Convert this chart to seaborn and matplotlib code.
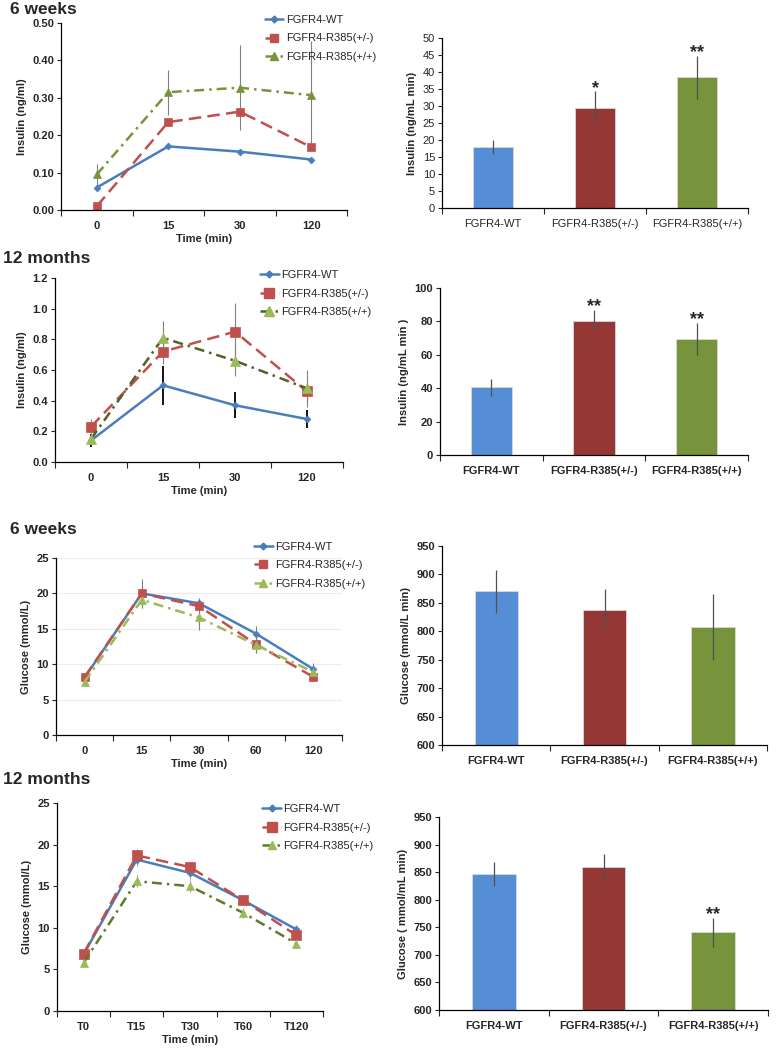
import seaborn as sns
import matplotlib.pyplot as plt
import numpy as np
from matplotlib.lines import Line2D
from matplotlib.ticker import FormatStrFormatter

groups = ['FGFR4-WT', 'FGFR4-R385(+/-)', 'FGFR4-R385(+/+)']

# insulin, 6 weeks
ins6w_times = ['0', '15', '30', '120']
ins6w_wt = [0.06, 0.17, 0.156, 0.135]
ins6w_het = [0.01, 0.235, 0.263, 0.168]
ins6w_hom = [0.095, 0.315, 0.327, 0.307]
ins6w_hom_err = [0.027, 0.06, 0.113, 0.145]
ins6w_auc = [18.0, 29.5, 38.5]
ins6w_auc_err = [2.0, 4.8, 6.3]

# insulin, 12 months
ins12m_times = ['0', '15', '30', '120']
ins12m_wt = [0.14, 0.50, 0.37, 0.28]
ins12m_wt_err = [0.04, 0.125, 0.085, 0.06]
ins12m_het = [0.23, 0.72, 0.85, 0.46]
ins12m_het_err = [0.05, 0.08, 0.185, 0.06]
ins12m_hom = [0.15, 0.81, 0.66, 0.48]
ins12m_hom_err = [0.03, 0.11, 0.10, 0.12]
ins12m_auc = [40.5, 80.5, 69.5]
ins12m_auc_err = [5.0, 6.5, 9.8]

# glucose, 6 weeks
glu6w_times = ['0', '15', '30', '60', '120']
glu6w_wt = [8.1, 20.0, 18.6, 14.3, 9.3]
glu6w_wt_err = [0.4, 1.0, 0.8, 1.1, 0.8]
glu6w_het = [8.2, 20.0, 18.2, 12.8, 8.2]
glu6w_het_err = [0.4, 2.0, 0.6, 1.2, 0.4]
glu6w_hom = [7.5, 19.1, 16.6, 12.7, 8.9]
glu6w_hom_err = [0.5, 1.1, 1.8, 1.1, 0.6]
glu6w_auc = [870, 837, 808]
glu6w_auc_err = [37, 38, 58]

# glucose, 12 months
glu12m_times = ['T0', 'T15', 'T30', 'T60', 'T120']
glu12m_wt = [6.8, 18.2, 16.6, 13.3, 9.8]
glu12m_wt_err = [0.4, 0.8, 0.7, 0.6, 0.5]
glu12m_het = [6.9, 18.7, 17.3, 13.3, 9.1]
glu12m_het_err = [0.4, 0.8, 0.6, 0.6, 0.5]
glu12m_hom = [5.8, 15.6, 15.0, 11.8, 8.1]
glu12m_hom_err = [0.4, 0.7, 0.7, 0.6, 0.4]
glu12m_auc = [846, 859, 741]
glu12m_auc_err = [22, 24, 26]

sns.set_style('ticks')
plt.rcParams['font.family'] = ['Liberation Sans', 'DejaVu Sans']

BLUE = '#4A7EBB'
RED = '#C0504D'
bar_colors = ['#558ED5', '#953735', '#77933C']

fig = plt.figure(figsize=(7.76, 10.5), dpi=100)


def px_axes(x0, y0, x1, y1):
    return fig.add_axes([x0 / 776, 1 - y1 / 1050, (x1 - x0) / 776, (y1 - y0) / 1050])


def style_axis(ax, n, ylim, step, fmt, ylabel, bold=True):
    ax.set_xlim(-0.5, n - 0.5)
    ax.set_ylim(*ylim)
    ax.set_yticks(np.arange(ylim[0], ylim[1] + step / 2, step))
    ax.yaxis.set_major_formatter(FormatStrFormatter(fmt))
    ax.set_xticks(np.arange(n + 1) - 0.5, minor=True)
    ax.tick_params(axis='x', which='major', length=0, labelsize=8, pad=8)
    ax.tick_params(axis='x', which='minor', length=4, width=0.8, direction='out')
    ax.tick_params(axis='y', length=3, width=0.8, labelsize=8, pad=2)
    ax.set_ylabel(ylabel, fontsize=8, fontweight='bold', labelpad=4)
    w = 'bold' if bold else 'normal'
    plt.setp(ax.get_yticklabels(), fontweight=w)
    plt.setp(ax.get_xticklabels(), fontweight=w)
    for sp in ['left', 'bottom']:
        ax.spines[sp].set_linewidth(0.9)
        ax.spines[sp].set_color('black')
    sns.despine(ax=ax)


def draw_lines(ax, times, rows, ylim, step, fmt, ylabel, anchor, grid=False):
    n = len(times)
    handles = []
    for label, vals, errs, st in rows:
        if errs is not None:
            ax.errorbar(np.arange(n), vals, yerr=errs, fmt='none', ecolor=st['ec'],
                        elinewidth=st.get('ew', 0.8), capsize=0, zorder=1)
        sns.pointplot(x=times, y=vals, color=st['c'], markers=st['m'], linestyles=st['ls'],
                      errorbar=None, ax=ax, linewidth=1.8, markersize=st['ms'],
                      markerfacecolor=st['mc'], markeredgecolor=st['mc'], markeredgewidth=0.5)
        handles.append(Line2D([], [], color=st['c'], ls=st['ls'], lw=1.8, marker=st['m'],
                              ms=st['ms'], mfc=st['mc'], mec=st['mc'], label=label))
    style_axis(ax, n, ylim, step, fmt, ylabel)
    if grid:
        ax.yaxis.grid(True, color='#ececec', lw=0.8)
        ax.set_axisbelow(True)
    ax.set_xlabel('Time (min)', fontsize=8, fontweight='bold', labelpad=2)
    ax.legend(handles=handles, loc='upper left', bbox_to_anchor=anchor, frameon=False,
              fontsize=8, handlelength=1.7, handletextpad=0.2, labelspacing=0.75,
              borderaxespad=0, borderpad=0.3)


def draw_bars(ax, vals, errs, ylim, step, ylabel, bold, stars):
    sns.barplot(x=groups, y=vals, hue=groups, palette=bar_colors, legend=False, width=0.4,
                saturation=1, errorbar=None, ax=ax, edgecolor='#d8d8d8', linewidth=0.6)
    ax.errorbar(np.arange(3), vals, yerr=errs, fmt='none', ecolor='#505050',
                elinewidth=0.9, capsize=0)
    style_axis(ax, 3, ylim, step, '%d', ylabel, bold=bold)
    ax.set_xlabel('')
    for i, s in stars:
        ax.annotate(s, (i, vals[i] + errs[i]), xytext=(0, -4), textcoords='offset points',
                    ha='center', va='bottom', fontsize=13, fontweight='bold')


wt_st = dict(c=BLUE, mc=BLUE, m='D', ls='-', ms=3.5, ec='#808080')
het_st = dict(c=RED, mc=RED, m='s', ls=(0, (5, 2.5)), ms=6, ec='#808080')

# row 1
ax1 = px_axes(61, 23, 347, 210)
draw_lines(ax1, ins6w_times, [
    (groups[0], ins6w_wt, None, wt_st),
    (groups[1], ins6w_het, None, het_st),
    (groups[2], ins6w_hom, ins6w_hom_err,
     dict(c='#77933C', mc='#77933C', m='^', ls=(0, (4, 2, 1, 2)), ms=5.5, ec='#808080')),
], (0, 0.5), 0.1, '%.2f', 'Insulin (ng/ml)', (0.70, 1.06))

ax2 = px_axes(442, 38, 748, 208)
draw_bars(ax2, ins6w_auc, ins6w_auc_err, (0, 50), 5, 'Insulin (ng/mL min)', False,
          [(1, '*'), (2, '**')])

# row 2
ax3 = px_axes(55, 278, 343, 462)
draw_lines(ax3, ins12m_times, [
    (groups[0], ins12m_wt, ins12m_wt_err, dict(wt_st, ec='black', ew=1.3)),
    (groups[1], ins12m_het, ins12m_het_err, dict(het_st, ms=7)),
    (groups[2], ins12m_hom, ins12m_hom_err,
     dict(c='#4F6228', mc='#9BBB59', m='^', ls=(0, (4, 2, 1, 2)), ms=7, ec='#808080')),
], (0, 1.2), 0.2, '%.1f', 'Insulin (ng/ml)', (0.70, 1.06))

ax4 = px_axes(440, 288, 748, 455)
draw_bars(ax4, ins12m_auc, ins12m_auc_err, (0, 100), 20, 'Insulin (ng/mL min )', True,
          [(1, '**'), (2, '**')])

# row 3
ax5 = px_axes(56, 558, 342, 735)
draw_lines(ax5, glu6w_times, [
    (groups[0], glu6w_wt, glu6w_wt_err, wt_st),
    (groups[1], glu6w_het, glu6w_het_err, het_st),
    (groups[2], glu6w_hom, glu6w_hom_err,
     dict(c='#9BBB59', mc='#9BBB59', m='^', ls=(0, (4, 2, 1, 2)), ms=5.5, ec='#808080')),
], (0, 25), 5, '%d', 'Glucose (mmol/L)', (0.68, 1.11), grid=True)

ax6 = px_axes(442, 546, 767, 745)
draw_bars(ax6, glu6w_auc, glu6w_auc_err, (600, 950), 50, 'Glucose (mmol/L min)', True, [])

# row 4
ax7 = px_axes(57, 803, 323, 1011)
draw_lines(ax7, glu12m_times, [
    (groups[0], glu12m_wt, glu12m_wt_err, dict(wt_st, ec='#a0a0a0')),
    (groups[1], glu12m_het, glu12m_het_err, dict(het_st, ms=7, ec='#a0a0a0')),
    (groups[2], glu12m_hom, glu12m_hom_err,
     dict(c='#5E7A2A', mc='#9BBB59', m='^', ls=(0, (4, 2, 1, 2)), ms=6, ec='#a0a0a0')),
], (0, 25), 5, '%d', 'Glucose (mmol/L)', (0.76, 1.01))

ax8 = px_axes(439, 817, 768, 1010)
draw_bars(ax8, glu12m_auc, glu12m_auc_err, (600, 950), 50, 'Glucose ( mmol/mL min)', True,
          [(2, '**')])

for y, t in [(9, '6 weeks'), (258, '12 months'), (530, '6 weeks'), (780, '12 months')]:
    fig.text(10 / 776 if t == '6 weeks' else 3 / 776, 1 - y / 1050, t, va='center',
             fontsize=12.5, fontweight='bold')

fig.savefig('out.png', dpi=100)
